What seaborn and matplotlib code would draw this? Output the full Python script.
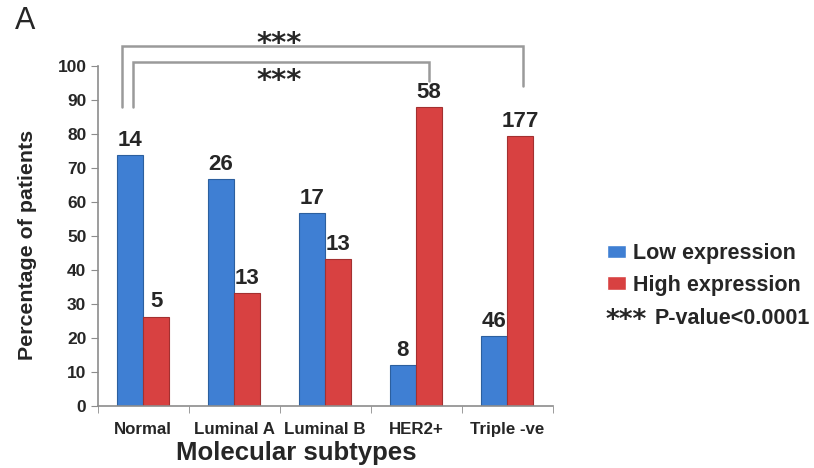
import pandas as pd
import seaborn as sns
import matplotlib.pyplot as plt

# Data
subtypes = ['Normal', 'Luminal A', 'Luminal B', 'HER2+', 'Triple -ve']
low_pct = [73.7, 66.7, 56.7, 12.1, 20.6]
high_pct = [26.3, 33.3, 43.3, 87.9, 79.4]
low_counts = [14, 26, 17, 8, 46]
high_counts = [5, 13, 13, 58, 177]
groups = ['Low expression', 'High expression']

df = pd.DataFrame({
    'Subtype': subtypes * 2,
    'Percent': low_pct + high_pct,
    'Group': [groups[0]] * 5 + [groups[1]] * 5,
})

sns.set_style('white')
plt.rcParams['font.family'] = ['Liberation Sans', 'DejaVu Sans']

fig = plt.figure(figsize=(8.14, 4.68), dpi=100)
ax = fig.add_axes([97.5 / 814, 1 - 406 / 468, 455 / 814, 340 / 468])

palette = {'Low expression': '#3f7fd3', 'High expression': '#d84141'}
edges = {'Low expression': '#2c5f9e', 'High expression': '#a33030'}
sns.barplot(data=df, x='Subtype', y='Percent', hue='Group', order=subtypes,
            hue_order=groups, palette=palette, saturation=1, width=0.58, ax=ax, legend=True)

for cont, grp, counts in zip(ax.containers, groups, [low_counts, high_counts]):
    for bar in cont:
        bar.set_edgecolor(edges[grp])
        bar.set_linewidth(0.8)
    ax.bar_label(cont, labels=[str(c) for c in counts], padding=3,
                 fontsize=16, fontweight='bold')

ax.set_xlim(-0.5, 4.5)
ax.set_ylim(0, 100)
ax.set_yticks(range(0, 101, 10))
ax.set_xlabel('')
ax.set_ylabel('')
for side in ['top', 'right']:
    ax.spines[side].set_visible(False)
for side in ['left', 'bottom']:
    ax.spines[side].set_color('#8c8c8c')
    ax.spines[side].set_linewidth(1.2)
ax.tick_params(axis='y', left=True, length=5, color='#8c8c8c', labelsize=12.5, pad=3)
ax.tick_params(axis='x', which='major', bottom=False, labelsize=12.2, pad=8)
ax.set_xticks([i - 0.5 for i in range(6)], minor=True)
ax.tick_params(axis='x', which='minor', bottom=True, length=5, color='#8c8c8c')
for lab in ax.get_xticklabels() + ax.get_yticklabels():
    lab.set_fontweight('bold')

# significance brackets
gray = '#9a9a9a'
ax.plot([-0.23, -0.23, 4.18, 4.18], [87.9, 105.9, 105.9, 94.1], color=gray, lw=1.8,
        clip_on=False, solid_joinstyle='miter')
ax.plot([-0.11, -0.11, 3.14, 3.14], [87.9, 101.3, 101.3, 95.6], color=gray, lw=1.8,
        clip_on=False, solid_joinstyle='miter')
ax.text(1.5, 106.5, '***', ha='center', va='center', fontsize=21, fontweight='bold',
        family='DejaVu Sans')
ax.text(1.5, 95.7, '***', ha='center', va='center', fontsize=21, fontweight='bold',
        family='DejaVu Sans')

# legend
handles, labels = ax.get_legend_handles_labels()
ax.get_legend().remove()
fig.legend(handles, labels, loc='upper left', bbox_to_anchor=(607 / 814, 1 - 243 / 468),
           frameon=False, borderpad=0, borderaxespad=0, handlelength=0.9, handleheight=0.6,
           handletextpad=0.3, labelspacing=0.5, prop={'size': 15.5, 'weight': 'bold'})
fig.text(606 / 814, 1 - 321 / 468, '***', fontsize=19, fontweight='bold',
         family='DejaVu Sans', va='center', ha='left')
fig.text(655 / 814, 1 - 319 / 468, 'P-value<0.0001', fontsize=15.5, fontweight='bold',
         va='center', ha='left')

fig.text(28 / 814, 1 - 245 / 468, 'Percentage of patients', rotation=90, ha='center',
         va='center', fontsize=15.4, fontweight='bold')
fig.text(296 / 814, 1 - 453 / 468, 'Molecular subtypes', ha='center', va='center',
         fontsize=18.5, fontweight='bold')
fig.text(15 / 814, 1 - 21 / 468, 'A', ha='left', va='center', fontsize=22)

fig.savefig('out.png', dpi=100)
